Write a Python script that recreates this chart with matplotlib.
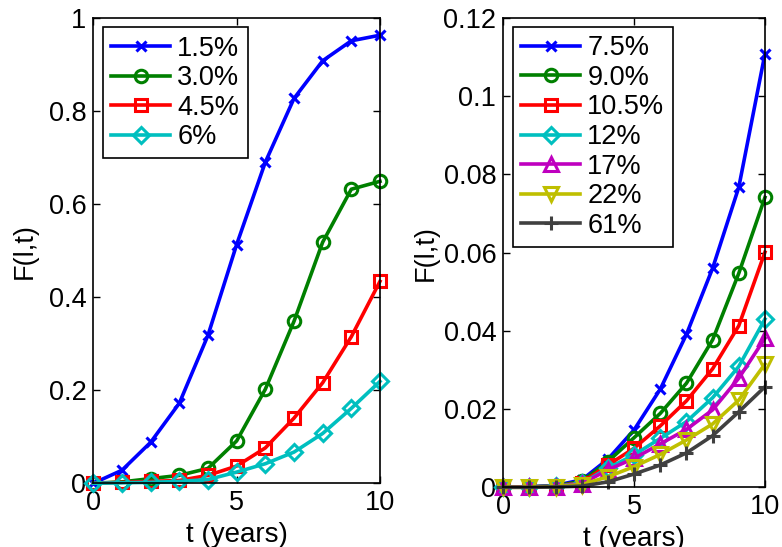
import numpy as np
import matplotlib.pyplot as plt

plt.rcParams['font.family'] = ['Liberation Sans', 'DejaVu Sans']

t = np.arange(0, 11)

# left panel
left_labels = ['1.5%', '3.0%', '4.5%', '6%']
f_15 = [0.0, 0.028, 0.088, 0.172, 0.318, 0.513, 0.690, 0.827, 0.908, 0.951, 0.963]
f_30 = [0.0, 0.003, 0.010, 0.017, 0.032, 0.091, 0.202, 0.348, 0.518, 0.632, 0.649]
f_45 = [0.0, 0.002, 0.004, 0.006, 0.017, 0.037, 0.076, 0.140, 0.216, 0.315, 0.434]
f_60 = [0.0, 0.001, 0.002, 0.004, 0.008, 0.024, 0.042, 0.067, 0.107, 0.161, 0.219]

# right panel
right_labels = ['7.5%', '9.0%', '10.5%', '12%', '17%', '22%', '61%']
f_75 = [0.0, 0.0001, 0.0005, 0.0019, 0.0072, 0.0147, 0.0251, 0.0391, 0.0560, 0.0767, 0.1108]
f_90 = [0.0, 0.0001, 0.0004, 0.0015, 0.0066, 0.0127, 0.0189, 0.0266, 0.0377, 0.0547, 0.0741]
f_105 = [0.0, 0.0001, 0.0003, 0.0012, 0.0057, 0.0100, 0.0157, 0.0221, 0.0303, 0.0413, 0.0601]
f_12 = [0.0, 0.0001, 0.0003, 0.0010, 0.0049, 0.0083, 0.0125, 0.0168, 0.0229, 0.0309, 0.0430]
f_17 = [0.0, 0.0001, 0.0002, 0.0009, 0.0045, 0.0074, 0.0111, 0.0148, 0.0198, 0.0279, 0.0381]
f_22 = [0.0, 0.0, 0.0002, 0.0007, 0.0027, 0.0053, 0.0084, 0.0121, 0.0162, 0.0223, 0.0315]
f_61 = [0.0, 0.0, 0.0001, 0.0003, 0.0014, 0.0034, 0.0057, 0.0088, 0.0132, 0.0193, 0.0257]

colors = ['#0000ff', '#008000', '#ff0000', '#00bfbf', '#bf00bf', '#bfbf00', '#404040']
markers = ['x', 'o', 's', 'D', '^', 'v', '+']
msizes = [7, 9, 9, 8, 10, 10, 10]
fs = 19.5

fig = plt.figure(figsize=(7.82, 5.47), dpi=100)
ax1 = fig.add_axes([0.1193, 0.1165, 0.3666, 0.8506])
ax2 = fig.add_axes([0.6436, 0.1091, 0.3346, 0.8583])


def draw(ax, series, labels):
    for i, (y, lab) in enumerate(zip(series, labels)):
        ax.plot(t, y, '-', color=colors[i], marker=markers[i], ms=msizes[i],
                mfc='none', mew=2.2, lw=2.6, label=lab, clip_on=False)


draw(ax1, [f_15, f_30, f_45, f_60], left_labels)
draw(ax2, [f_75, f_90, f_105, f_12, f_17, f_22, f_61], right_labels)

ax1.set_xlim(0, 10)
ax1.set_ylim(0, 1)
ax1.set_yticks([0, 0.2, 0.4, 0.6, 0.8, 1])
ax1.set_yticklabels(['0', '0.2', '0.4', '0.6', '0.8', '1'])

ax2.set_xlim(0, 10)
ax2.set_ylim(0, 0.12)
ax2.set_yticks([0, 0.02, 0.04, 0.06, 0.08, 0.1, 0.12])
ax2.set_yticklabels(['0', '0.02', '0.04', '0.06', '0.08', '0.1', '0.12'])

for ax in (ax1, ax2):
    ax.set_xticks([0, 5, 10])
    ax.tick_params(direction='in', top=True, right=True, length=5, width=1,
                   labelsize=fs, pad=5)
    ax.set_xlabel('t (years)', fontsize=fs + 0.5, labelpad=4)
    for s in ax.spines.values():
        s.set_linewidth(1.2)
    leg = ax.legend(loc='upper left', fontsize=fs, handlelength=2.2,
                    handletextpad=0.25, labelspacing=0.13, borderpad=0.3,
                    borderaxespad=0.35, fancybox=False, framealpha=1)
    leg.get_frame().set_edgecolor('black')
    leg.get_frame().set_linewidth(1.2)

ax1.set_ylabel('F(l,t)', fontsize=fs, labelpad=8)
ax2.set_ylabel('F(l,t)', fontsize=fs, labelpad=3)

fig.savefig('out.png', dpi=100)
